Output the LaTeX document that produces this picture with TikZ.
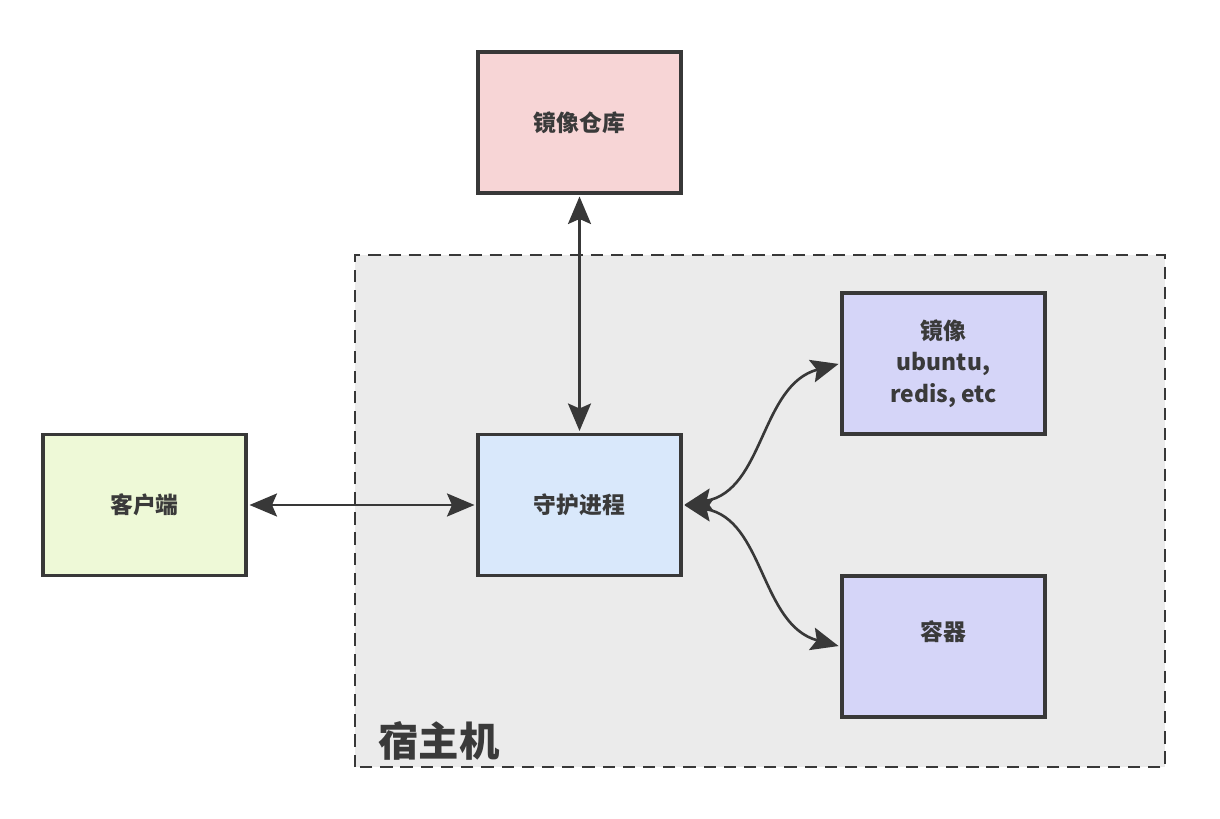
\documentclass[tikz,border=0pt]{standalone}
\usepackage{fontspec}
\setmainfont{Noto Sans CJK SC}
\usetikzlibrary{positioning}
\usetikzlibrary{calc}
\usetikzlibrary{arrows.meta}

\definecolor{repofill}{HTML}{F7D5D6}
\definecolor{clientfill}{HTML}{EEF9D7}
\definecolor{daemonfill}{HTML}{D9E8FB}
\definecolor{imgfill}{HTML}{D5D5F8}
\definecolor{hostfill}{HTML}{EBEBEB}
\definecolor{borda}{HTML}{383838}
\definecolor{texto}{HTML}{3A3A3A}

\tikzset{
    caixa/.style={rectangle, draw=borda, line width=2pt, minimum width=4.06cm,
                  minimum height=2.82cm, align=center, text=texto,
                  font=\fontsize{13}{18}\selectfont\bfseries},
    seta/.style={draw=borda, line width=1.5pt,
                 {Stealth[length=5.5mm, width=4.6mm, inset=1mm]}-{Stealth[length=5.5mm, width=4.6mm, inset=1mm]},
                 shorten <=1pt, shorten >=1pt}
}

\begin{document}
\begin{tikzpicture}[x=0.02cm, y=0.02cm]

        \useasboundingbox (0,0) rectangle (1220,818);

        % Definindo a maquina hospedeira
        \draw[fill=hostfill, draw=borda, line width=1.6pt, dash pattern=on 7pt off 4.5pt]
            (355,51) rectangle (1165,563);
        \node[anchor=west, text=texto, font=\fontsize{23}{26}\selectfont\bfseries] (host) at (372,77) {宿主机};

        % Definindo caixas
        \foreach \pos/\name/\cor/\rotulo in {{(579.5,695.5)/repo/repofill/镜像仓库},
                                             {(144.5,313)/client/clientfill/客户端},
                                             {(579.5,313)/daemon/daemonfill/守护进程},
                                             {(943.5,454.5)/image/imgfill/镜像\\ubuntu,\\redis, etc},
                                             {(943.5,171.5)/container/imgfill/容器\\\mbox{}}}
            \node[caixa, fill=\cor] (\name) at \pos {\rotulo};

        % Definindo setas
        \foreach \source/\target in {client.east/daemon.west, daemon.north/repo.south}
            \draw[seta] (\source) -- (\target);
        \draw[seta] (daemon.east) to[out=10, in=195] (image.west);
        \draw[seta] (daemon.east) to[out=-10, in=165] (container.west);

    \end{tikzpicture}
\end{document}
